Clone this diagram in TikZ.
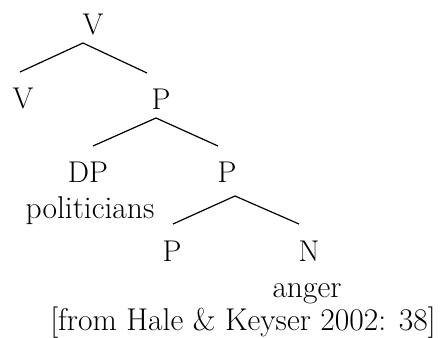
\documentclass[tikz,border=0pt]{standalone}
\newcommand{\catfont}{\fontsize{30}{36}\selectfont}
\newcommand{\wordfont}{\fontsize{31.5}{37}\selectfont}
\begin{document}
\begin{tikzpicture}[x=1pt,y=-1pt,every node/.style={inner sep=0pt,anchor=base,font=\catfont},
  word/.style={font=\wordfont},branch/.style={line width=1.2pt}]
\useasboundingbox (0,0) rectangle (441,337);
% categories
\node (vtop) at (93,35) {V};
\node (vl) at (23,108) {V};
\node (pa) at (161,109) {P};
\node (dp) at (88,182) {DP};
\node[word] (pol) at (90,218) {politicians};
\node (pb) at (227,182) {P};
\node (pc) at (172,261) {P};
\node (n) at (309,261) {N};
\node[word] (anger) at (307,297) {anger};
\node[word] (cite) at (243,330) {[from Hale \& Keyser 2002: 38]};
% branches
\draw[branch] ([shift={(-10,8)}]vtop.base) -- ([shift={(-3,-36)}]vl.base);
\draw[branch] ([shift={(-10,8)}]vtop.base) -- ([shift={(-14,-36)}]pa.base);
\draw[branch] ([shift={(-5,9)}]pa.base) -- ([shift={(5,-36)}]dp.base);
\draw[branch] ([shift={(-5,9)}]pa.base) -- ([shift={(-9,-36)}]pb.base);
\draw[branch] ([shift={(8,14)}]pb.base) -- ([shift={(1,-37)}]pc.base);
\draw[branch] ([shift={(8,14)}]pb.base) -- ([shift={(-10,-37)}]n.base);
\end{tikzpicture}
\end{document}
